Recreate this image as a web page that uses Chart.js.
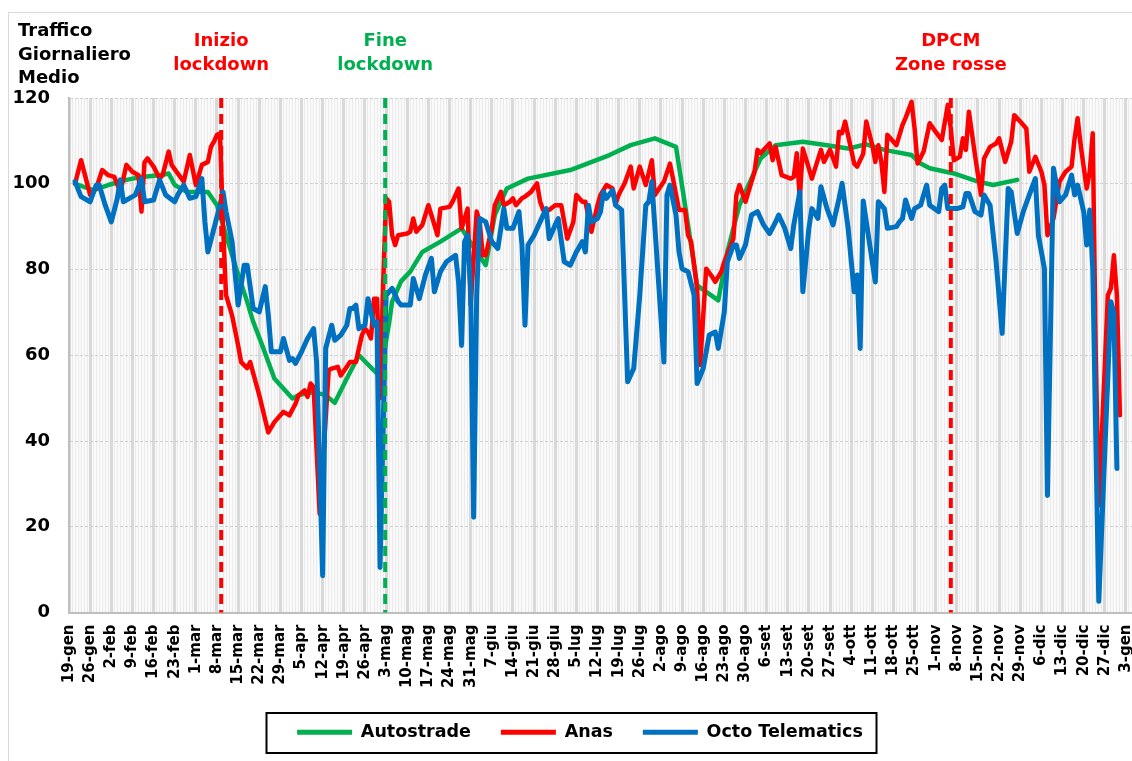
<!DOCTYPE html>
<html>
<head>
<meta charset="utf-8">
<script src="https://cdn.jsdelivr.net/npm/chart.js@4/dist/chart.umd.min.js"></script>
<style>
    body { margin: 0; background: #ffffff; }
    #wrap { width: 1132px; height: 761px; }
</style>
</head>
<body>
<div id="wrap"><canvas id="traffic-chart" width="1132" height="761"></canvas></div>
<script>
// one label per week, day 0 = 19-gen
var weekLabels = ['19-gen', '26-gen', '2-feb', '9-feb', '16-feb', '23-feb', '1-mar', '8-mar', '15-mar', '22-mar',
    '29-mar', '5-apr', '12-apr', '19-apr', '26-apr', '3-mag', '10-mag', '17-mag', '24-mag', '31-mag',
    '7-giu', '14-giu', '21-giu', '28-giu', '5-lug', '12-lug', '19-lug', '26-lug', '2-ago', '9-ago',
    '16-ago', '23-ago', '30-ago', '6-set', '13-set', '20-set', '27-set', '4-ott', '11-ott', '18-ott',
    '25-ott', '1-nov', '8-nov', '15-nov', '22-nov', '29-nov', '6-dic', '13-dic', '20-dic', '27-dic', '3-gen'];

var yTicks = [0, 20, 40, 60, 80, 100, 120];

// Autostrade (days from 19-gen / index)
var autostradeDays = [2, 8, 13, 19, 24, 30, 33, 35, 39, 43,
    46, 49, 52, 55, 59, 61, 64, 68, 74, 76,
    81, 85, 88, 92, 96, 103, 106, 107, 110, 113,
    117, 123, 130, 135, 138, 141, 145, 152, 166, 179,
    186, 194, 201, 204, 208, 215, 218, 222, 229, 234,
    243, 251, 258, 264, 270, 279, 282, 285, 293, 301,
    306, 314];
var autostradeValues = [100, 98.5, 99.7, 100.9, 101.6, 102, 102.4, 99.7, 98.1, 98.1,
    98.1, 95, 88, 81, 72.5, 67.8, 62.3, 54.6, 49.9, 50.7,
    51.4, 50.7, 48.9, 54.6, 60, 55, 67.5, 72.5, 77.3, 79.5,
    84.1, 86.5, 89.6, 84.1, 81, 92.7, 98.9, 101.2, 103.2, 106.7,
    109, 110.6, 108.6, 95, 76.3, 72.8, 84.1, 95, 105.9, 109,
    109.8, 109, 108.2, 109.2, 107.9, 106.7, 104.7, 103.6, 102.4, 100.5,
    99.7, 100.9];

// Anas
var anasDays = [2, 4, 7, 9, 11, 13, 15, 17, 19, 21,
    23, 24, 25, 26, 28, 30, 31, 33, 34, 36,
    38, 40, 42, 44, 46, 47, 48, 49, 50, 51,
    52, 54, 56, 57, 59, 60, 63, 66, 68, 71,
    73, 75, 76, 78, 79, 80, 81, 83, 86, 87,
    89, 90, 92, 93, 95, 97, 98, 99, 100, 101,
    102, 103, 104, 105, 106, 107, 108, 109, 112, 113,
    114, 115, 117, 119, 121, 122, 123, 126, 127, 129,
    130, 132, 133, 135, 136, 137, 138, 140, 141, 143,
    144, 146, 147, 148, 150, 151, 153, 155, 156, 157,
    159, 161, 163, 165, 167, 168, 170, 171, 173, 175,
    176, 178, 180, 181, 182, 184, 186, 187, 189, 191,
    193, 194, 197, 199, 200, 202, 204, 205, 206, 208,
    209, 211, 213, 214, 216, 217, 220, 221, 222, 224,
    227, 228, 229, 232, 233, 234, 236, 239, 240, 241,
    242, 243, 244, 246, 249, 250, 252, 254, 255, 256,
    257, 260, 261, 263, 264, 266, 267, 268, 269, 270,
    271, 272, 274, 276, 277, 279, 280, 281, 283, 285,
    287, 289, 291, 292, 293, 295, 296, 297, 298, 300,
    302, 303, 305, 307, 308, 310, 312, 313, 315, 317,
    318, 320, 322, 323, 324, 326, 328, 330, 332, 333,
    334, 335, 337, 338, 339, 340, 341, 344, 345, 346,
    347, 348];
var anasValues = [100, 105.5, 97.4, 98.9, 103.2, 102, 101.6, 98.1, 104.4, 102.8,
    102, 93.5, 105, 105.9, 104, 101.2, 102, 107.5, 104.4, 102.4,
    100.5, 106.7, 99.7, 104.4, 105.1, 108.6, 109.8, 111.4, 111.7, 90,
    74, 69.3, 62.3, 58.4, 57, 58.4, 50.7, 42, 44.4, 46.8,
    46, 48.7, 50.6, 51.8, 50.3, 53.4, 52.6, 23, 56.5, 56.9,
    57.3, 55.3, 57.3, 58.4, 58.4, 64.7, 66.2, 65.4, 63.9, 73.2,
    73.2, 50, 76, 96.6, 95.8, 88, 85.7, 88, 88.4, 88.8,
    91.9, 88.8, 90.4, 95, 90.4, 88, 94.2, 94.6, 95.8, 98.9,
    89.6, 94.2, 71.7, 93.5, 91.1, 83.3, 83.3, 89.6, 95, 98.1,
    95, 95.8, 96.6, 95, 96.6, 97, 98.1, 100.1, 95.8, 93.9,
    93.9, 95, 95, 87.2, 91.1, 97.4, 95.8, 95.8, 88.8, 95,
    97.4, 99.7, 98.9, 95.4, 97.4, 100.1, 104, 98.9, 104, 99.7,
    105.5, 97.4, 100.5, 104.7, 101.2, 93.9, 93.9, 88, 86.5, 75.6,
    57.7, 80.2, 78.3, 77.1, 79.5, 81.8, 87.2, 97.4, 99.7, 95.8,
    102.8, 107.9, 107.1, 109.4, 105.5, 108.6, 102, 101.2, 101.6, 107.1,
    96.6, 108.2, 105.9, 101.2, 107.9, 105.1, 107.9, 104, 112.1, 111.8,
    114.5, 104.7, 104, 107, 114.5, 109, 105.1, 109, 105.1, 98.1,
    111.4, 110.6, 109, 113.7, 115.3, 119.1, 112.9, 104.7, 107.5, 114.1,
    112.1, 110.2, 118.4, 112.9, 105.5, 106.3, 110.6, 107.9, 116.8, 106.7,
    97.4, 105.9, 108.6, 109.4, 110.6, 105.1, 109.8, 116, 114.5, 112.9,
    102.8, 106.3, 102.8, 99.7, 88, 91.9, 100.5, 102.8, 104, 110.6,
    115.3, 109, 98.9, 102.8, 111.8, 60, 25, 74, 75.6, 83.3,
    74, 46];

// Octo Telematics
var octoDays = [2, 4, 5, 7, 9, 10, 12, 14, 16, 17,
    18, 20, 22, 24, 25, 28, 30, 32, 35, 36,
    38, 40, 42, 44, 45, 46, 48, 50, 51, 52,
    54, 56, 58, 59, 61, 63, 65, 66, 67, 70,
    71, 73, 74, 75, 77, 79, 81, 82, 84, 85,
    87, 88, 90, 92, 93, 94, 95, 96, 98, 99,
    101, 102, 103, 105, 107, 109, 110, 113, 114, 116,
    118, 120, 121, 123, 125, 128, 129, 130, 131, 132,
    133, 134, 135, 136, 138, 140, 142, 144, 145, 147,
    149, 150, 151, 152, 154, 156, 158, 159, 161, 162,
    164, 166, 168, 170, 171, 172, 173, 175, 176, 177,
    178, 180, 181, 183, 185, 187, 189, 191, 192, 193,
    197, 198, 199, 201, 202, 203, 205, 207, 208, 210,
    212, 214, 215, 217, 218, 220, 221, 222, 224, 226,
    228, 230, 232, 234, 235, 237, 239, 240, 242, 243,
    245, 246, 248, 249, 251, 253, 255, 256, 258, 260,
    261, 262, 263, 265, 267, 268, 270, 271, 274, 275,
    276, 277, 279, 280, 282, 284, 285, 288, 289, 290,
    291, 294, 296, 297, 298, 300, 302, 303, 305, 307,
    309, 311, 312, 314, 316, 318, 320, 321, 323, 324,
    326, 328, 330, 332, 333, 334, 336, 337, 338, 339,
    341, 345, 346, 347];
var octoValues = [100.5, 97, 96.6, 95.8, 99.7, 99.7, 95, 91.1, 96.6, 100.9,
    95.8, 96.6, 97.4, 101.2, 95.8, 96.2, 100.9, 97.4, 95.8, 97.4,
    99.7, 96.6, 97, 101.2, 91.1, 84.1, 89.6, 95, 98.1, 93.5,
    86.5, 71.7, 81, 81, 70.9, 70.1, 76, 69.3, 60.8, 60.8,
    63.9, 58.8, 59.2, 58.1, 60.8, 63.9, 66.2, 58.4, 8.6, 61.6,
    67, 63.5, 64.7, 67, 70.9, 70.9, 71.7, 66.2, 67, 73.2,
    67, 67.8, 10.5, 74, 75.6, 72.5, 71.7, 71.7, 77.9, 73.2,
    78.7, 82.6, 74.8, 79.5, 81.8, 83.3, 77.1, 62.3, 86.5, 88,
    75.6, 22.2, 74, 91.9, 91.1, 86.5, 84.9, 94.2, 89.6, 89.6,
    93.5, 85.7, 67, 85.7, 88, 91.1, 94.2, 87.2, 90.4, 91.9,
    81.8, 81, 84.1, 86.5, 84.1, 95, 91.1, 91.9, 93.5, 98.1,
    96.6, 98.5, 95, 93.9, 53.8, 56.9, 74, 95, 95.8, 100.5,
    58.4, 97.4, 99.7, 92.7, 84.1, 80.2, 79.5, 74, 53.4, 56.9,
    64.7, 65.4, 61.6, 70.1, 81.8, 85.7, 85.7, 82.6, 85.7, 92.7,
    93.5, 90.4, 88.4, 91.1, 92.7, 89.6, 84.9, 90.4, 98.1, 74.8,
    89.6, 94.2, 91.9, 99.3, 94.2, 90.4, 96.6, 100.1, 89.6, 74.8,
    78.7, 61.6, 96, 86.5, 77.1, 95.8, 94.2, 89.6, 90, 91.1,
    91.9, 96.2, 91.9, 94.2, 95, 99.7, 95, 93.5, 98.9, 99.7,
    94.2, 94.2, 94.6, 97.7, 97.7, 93.5, 92.7, 97.4, 95, 81.8,
    65.1, 98.9, 98.1, 88.4, 93.5, 97.4, 101.2, 88, 80.2, 27.3,
    103.6, 95.8, 97.4, 102, 97.4, 99.7, 93.5, 85.7, 93.9, 80.2,
    2.6, 72.5, 70, 33.6];

// vertical event markers
var eventDays = [50.4, 104.7, 292];
var eventColors = ['#ff0000', '#00b050', '#ff0000'];
var eventTexts = [['Inizio', 'lockdown'], ['Fine', 'lockdown'], ['DPCM', 'Zone rosse']];

var yTitle = ['Traffico', 'Giornaliero', 'Medio'];

function toPoints(days, values) {
    var pts = [];
    for (let i = 0; i < days.length; i++) {
        pts.push({ x: days[i], y: values[i] });
    }
    return pts;
}

var extrasPlugin = {
    id: 'extras',
    beforeDraw: function(chart) {
        var ctx = chart.ctx;
        var a = chart.chartArea;
        ctx.save();
        ctx.fillStyle = '#fafafa';
        ctx.fillRect(a.left, a.top, a.right - a.left, a.bottom - a.top);
        ctx.restore();
    },
    afterLayout: function(chart) {
        // the original legend sits a little right of centre
        var lg = chart.legend;
        lg.left += 14;
        lg.right += 14;
        if (lg.adjustHitBoxes) lg.adjustHitBoxes();
    },
    afterDatasetsDraw: function(chart) {
        var ctx = chart.ctx;
        var a = chart.chartArea;
        var xs = chart.scales.x;
        ctx.save();
        ctx.lineWidth = 4;
        ctx.setLineDash([10, 6]);
        for (let i = 0; i < eventDays.length; i++) {
            var px = xs.getPixelForValue(eventDays[i]);
            ctx.strokeStyle = eventColors[i];
            ctx.beginPath();
            ctx.moveTo(px, a.top);
            ctx.lineTo(px, a.bottom);
            ctx.stroke();
        }
        ctx.restore();
    },
    afterDraw: function(chart) {
        var ctx = chart.ctx;
        var xs = chart.scales.x;
        ctx.save();
        // outer frame
        ctx.strokeStyle = '#d9d9d9';
        ctx.lineWidth = 1;
        ctx.strokeRect(8.5, 12.5, 1200, 800);

        ctx.font = 'bold 18px "DejaVu Sans"';
        ctx.textBaseline = 'alphabetic';
        ctx.textAlign = 'left';
        ctx.fillStyle = '#000000';
        for (let i = 0; i < yTitle.length; i++) {
            ctx.fillText(yTitle[i], 18, 36 + i * 23.5);
        }

        ctx.textAlign = 'center';
        for (let i = 0; i < eventDays.length; i++) {
            var px = xs.getPixelForValue(eventDays[i]);
            ctx.fillStyle = eventColors[i];
            ctx.fillText(eventTexts[i][0], px, 46);
            ctx.fillText(eventTexts[i][1], px, 70);
        }

        // frame round the legend row
        var lg = chart.legend;
        var pad = lg.options.labels.padding;
        var rowW = (lg.lineWidths && lg.lineWidths[0]) || 560;
        var startX = (lg.left + pad + lg.right - rowW) / 2;
        var endX = startX + rowW - pad;
        var cy = lg.top + pad + 9;
        ctx.strokeStyle = '#000000';
        ctx.lineWidth = 2;
        ctx.strokeRect(Math.round(startX - 31) + 0.5, Math.round(cy - 20), Math.round(endX - startX + 44), 40);
        ctx.restore();
    }
};

function drawChart() {
    Chart.defaults.font.family = '"DejaVu Sans", sans-serif';
    Chart.defaults.color = '#000000';

    var ctx = document.getElementById('traffic-chart');
    new Chart(ctx, {
        type: 'line',
        data: {
            datasets: [{
                label: 'Autostrade',
                data: toPoints(autostradeDays, autostradeValues),
                borderColor: '#00b050',
                backgroundColor: '#00b050',
                borderWidth: 4.5,
                order: 3
            }, {
                label: 'Anas',
                data: toPoints(anasDays, anasValues),
                borderColor: '#ff0000',
                backgroundColor: '#ff0000',
                borderWidth: 4.5,
                order: 2
            }, {
                label: 'Octo Telematics',
                data: toPoints(octoDays, octoValues),
                borderColor: '#0070c0',
                backgroundColor: '#0070c0',
                borderWidth: 5,
                order: 1
            }]
        },
        options: {
            responsive: false,
            animation: false,
            devicePixelRatio: 1,
            layout: { padding: { left: 0, right: 0, top: 98, bottom: 10 } },
            elements: {
                point: { radius: 0 },
                line: { tension: 0, borderJoinStyle: 'round', borderCapStyle: 'round' }
            },
            plugins: {
                tooltip: { enabled: false },
                legend: {
                    position: 'bottom',
                    labels: {
                        boxWidth: 55,
                        boxHeight: 5,
                        padding: 30,
                        color: '#000000',
                        font: { size: 17.5, weight: 'bold' },
                        sort: function(a, b) { return a.datasetIndex - b.datasetIndex; },
                        generateLabels: function(chart) {
                            var items = Chart.defaults.plugins.legend.labels.generateLabels(chart);
                            items.forEach(function(it) { it.lineWidth = 0; });
                            return items;
                        }
                    }
                }
            },
            scales: {
                x: {
                    type: 'linear',
                    min: 0,
                    max: 352,
                    afterFit: function(scale) {
                        scale.height = 81;
                        scale.paddingLeft = 0;
                        scale.paddingRight = 0;
                    },
                    ticks: {
                        stepSize: 1,
                        autoSkip: false,
                        minRotation: 90,
                        maxRotation: 90,
                        padding: 12,
                        color: '#000000',
                        font: { size: 15, weight: 'bold' },
                        callback: function(value) {
                            return value % 7 === 0 ? (weekLabels[value / 7] || '') : '';
                        }
                    },
                    grid: {
                        drawTicks: false,
                        color: function(c) {
                            return c.tick && c.tick.value % 7 === 0 ? '#d9d9d9' : '#ebebeb';
                        },
                        lineWidth: function(c) {
                            return c.tick && c.tick.value % 7 === 0 ? 3 : 1;
                        }
                    },
                    border: { color: '#bfbfbf', width: 2 }
                },
                y: {
                    min: 0,
                    max: 120,
                    afterFit: function(scale) { scale.width = 69; },
                    afterBuildTicks: function(scale) {
                        scale.ticks = yTicks.map(function(v) { return { value: v }; });
                    },
                    ticks: {
                        padding: 19,
                        color: '#000000',
                        font: { size: 18, weight: 'bold' }
                    },
                    grid: {
                        drawTicks: false,
                        color: '#d0d0d0',
                        lineWidth: 1
                    },
                    border: { color: '#bfbfbf', width: 2, dash: [3, 2] }
                }
            }
        },
        plugins: [extrasPlugin]
    });
}

drawChart();
</script>
</body>
</html>
